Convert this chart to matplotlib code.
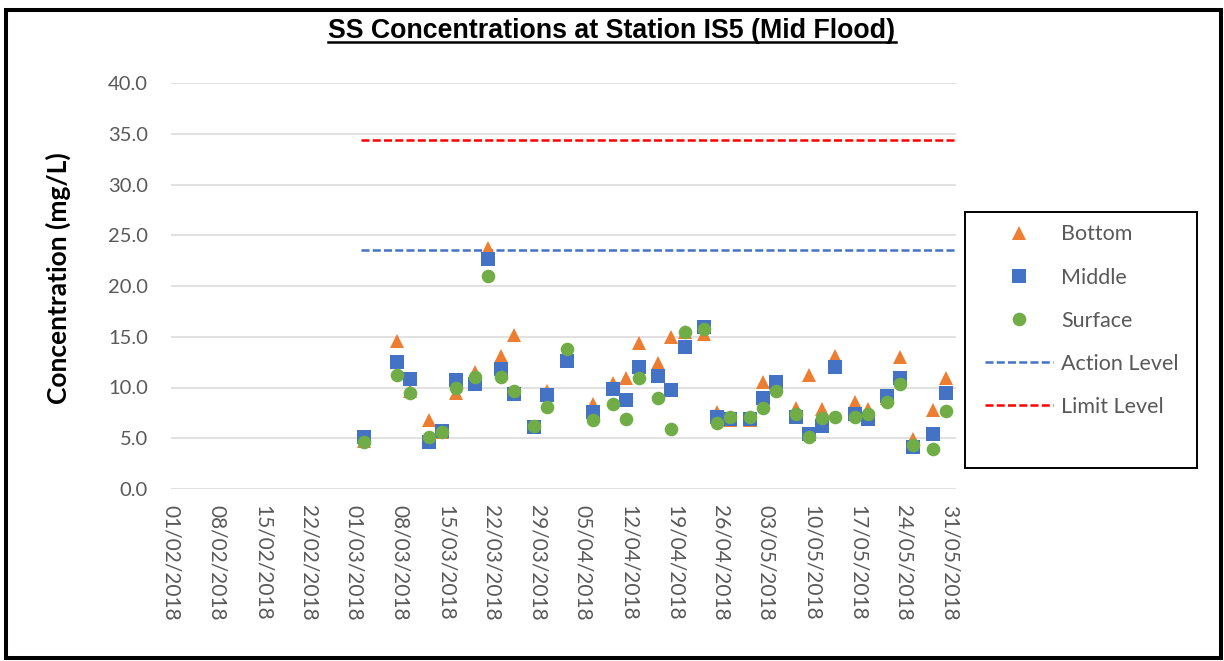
import matplotlib
matplotlib.use("Agg")
import matplotlib.pyplot as plt
import matplotlib.dates as mdates
from matplotlib.lines import Line2D
from matplotlib.patches import Rectangle
import pandas as pd

# Sampling dates (mid-flood) and SS results at three depths, mg/L
dates = [
    "2018-03-02", "2018-03-07", "2018-03-09", "2018-03-12", "2018-03-14",
    "2018-03-16", "2018-03-19", "2018-03-21", "2018-03-23", "2018-03-25",
    "2018-03-28", "2018-03-30", "2018-04-02", "2018-04-06", "2018-04-09",
    "2018-04-11", "2018-04-13", "2018-04-16", "2018-04-18", "2018-04-20",
    "2018-04-23", "2018-04-25", "2018-04-27", "2018-04-30", "2018-05-02",
    "2018-05-04", "2018-05-07", "2018-05-09", "2018-05-11", "2018-05-13",
    "2018-05-16", "2018-05-18", "2018-05-21", "2018-05-23", "2018-05-25",
    "2018-05-28", "2018-05-30",
]
bottom = [
    4.7, 14.6, 9.7, 6.8, 5.6, 9.5, 11.5, 23.7, 13.1, 15.2,
    6.1, 9.7, 12.6, 8.4, 10.4, 10.9, 14.4, 12.4, 15.0, 15.5,
    15.3, 7.6, 6.8, 6.8, 10.5, 10.4, 8.0, 11.2, 7.9, 13.1,
    8.6, 7.9, 9.0, 13.0, 4.9, 7.8, 10.9,
]
middle = [
    5.1, 12.5, 10.8, 4.6, 5.7, 10.7, 10.3, 22.7, 11.8, 9.4,
    6.1, 9.3, 12.6, 7.6, 9.9, 8.8, 12.0, 11.1, 9.8, 14.0,
    16.0, 7.1, 6.9, 6.9, 9.0, 10.5, 7.1, 5.4, 6.2, 12.0,
    7.4, 6.9, 9.2, 10.9, 4.1, 5.4, 9.5,
]
surface = [
    4.6, 11.2, 9.5, 5.1, 5.6, 10.0, 11.0, 21.0, 11.0, 9.7,
    6.2, 8.1, 13.8, 6.8, 8.4, 6.9, 10.9, 9.0, 5.9, 15.5,
    15.8, 6.5, 7.1, 7.1, 8.0, 9.7, 7.4, 5.1, 7.0, 7.1,
    7.1, 7.4, 8.6, 10.3, 4.3, 3.9, 7.7,
]

level_dates = ["2018-03-02", "2018-06-01"]
action_level = 23.5
limit_level = 34.4

axis_start = "2018-02-01"
axis_end = "2018-06-01"
tick_step_days = 7

ORANGE = "#ED7D31"
BLUE = "#4472C4"
GREEN = "#70AD47"
RED = "#FF0000"
GREY_TXT = "#595959"
GRID = "#D9D9D9"

W, H = 1224, 661
fig = plt.figure(figsize=(W / 100, H / 100), dpi=100)


def fx(px):
    return px / W


def fy(py):
    return 1 - py / H


ax = fig.add_axes([fx(171), fy(489), fx(956) - fx(171), fy(83) - fy(489)])

# each sample sits in the middle of its one-day slot
x = pd.to_datetime(dates) + pd.Timedelta(hours=12)
lx = pd.to_datetime(level_dates)

dash = (0, (3.2, 1.3))
ax.plot(lx, [action_level] * len(lx), color=BLUE, lw=1.8, ls=dash,
        clip_on=False, zorder=2)
ax.plot(lx, [limit_level] * len(lx), color=RED, lw=1.8, ls=dash,
        clip_on=False, zorder=2)

ax.plot(x, bottom, ls="none", marker="^", ms=10.6, color=ORANGE, mew=0, zorder=3)
ax.plot(x, middle, ls="none", marker="s", ms=10.0, color=BLUE, mew=0, zorder=4)
ax.plot(x, surface, ls="none", marker="o", ms=9.8, color=GREEN, mew=0, zorder=5)

ax.set_ylim(0, 40)
ax.set_yticks(range(0, 41, 5))
ax.yaxis.set_major_formatter(matplotlib.ticker.FormatStrFormatter("%.1f"))

start = pd.Timestamp(axis_start)
end = pd.Timestamp(axis_end)
ax.set_xlim(start, end)
ticks = pd.date_range(start, end - pd.Timedelta(days=1), freq=f"{tick_step_days}D")
ax.set_xticks(ticks)
ax.xaxis.set_major_formatter(mdates.DateFormatter("%d/%m/%Y"))

for s in ax.spines.values():
    s.set_visible(False)
ax.grid(axis="y", color=GRID, lw=1.1)
ax.set_axisbelow(True)

ax.tick_params(axis="y", length=0, pad=16.5, labelsize=14.5, labelcolor=GREY_TXT)
ax.tick_params(axis="x", length=0, pad=11.5, labelsize=15, labelcolor=GREY_TXT)
for t in ax.get_yticklabels():
    t.set_fontfamily("Lato")
for t in ax.get_xticklabels():
    t.set_fontfamily("Lato")
    t.set_rotation(-90)
    t.set_va("top")
    t.set_ha("center")

fig.text(fx(58), fy(278), "Concentration (mg/L)", rotation=90, ha="center",
         va="center", fontsize=19, fontweight="bold", family="Lato", color="black")

title = fig.text(0.5, fy(38), "SS Concentrations at Station IS5 (Mid Flood)",
                 ha="center", va="baseline", fontsize=19.3, fontweight="bold",
                 family="Liberation Sans", color="black")
fig.canvas.draw()
bb = title.get_window_extent()
ul_y = fy(42)
fig.add_artist(Line2D([bb.x0 / W, bb.x1 / W], [ul_y, ul_y], color="black",
                      lw=1.8, transform=fig.transFigure))

# legend box
fig.add_artist(Rectangle((fx(965), fy(468)), fx(1197) - fx(965), fy(212) - fy(468),
                         transform=fig.transFigure, fill=False,
                         edgecolor="black", lw=1.4))
handles = [
    Line2D([], [], ls="none", marker="^", ms=10.6, color=ORANGE, mew=0),
    Line2D([], [], ls="none", marker="s", ms=10.0, color=BLUE, mew=0),
    Line2D([], [], ls="none", marker="o", ms=9.8, color=GREEN, mew=0),
    Line2D([], [], color=BLUE, lw=1.8, ls=dash),
    Line2D([], [], color=RED, lw=1.8, ls=dash),
]
labels = ["Bottom", "Middle", "Surface", "Action Level", "Limit Level"]
leg = fig.legend(handles, labels, loc="upper left",
                 bbox_to_anchor=(fx(985), fy(224.5)), bbox_transform=fig.transFigure,
                 frameon=False, borderpad=0, borderaxespad=0, handlelength=3.16,
                 handletextpad=0.37, labelspacing=1.07,
                 prop={"family": "Lato", "size": 15.5})
for t in leg.get_texts():
    t.set_color(GREY_TXT)

# outer frame
fig.add_artist(Rectangle((fx(6), fy(658)), fx(1221) - fx(6), fy(10) - fy(658),
                         transform=fig.transFigure, fill=False,
                         edgecolor="black", lw=2.9))

fig.savefig("out.png", dpi=100)
